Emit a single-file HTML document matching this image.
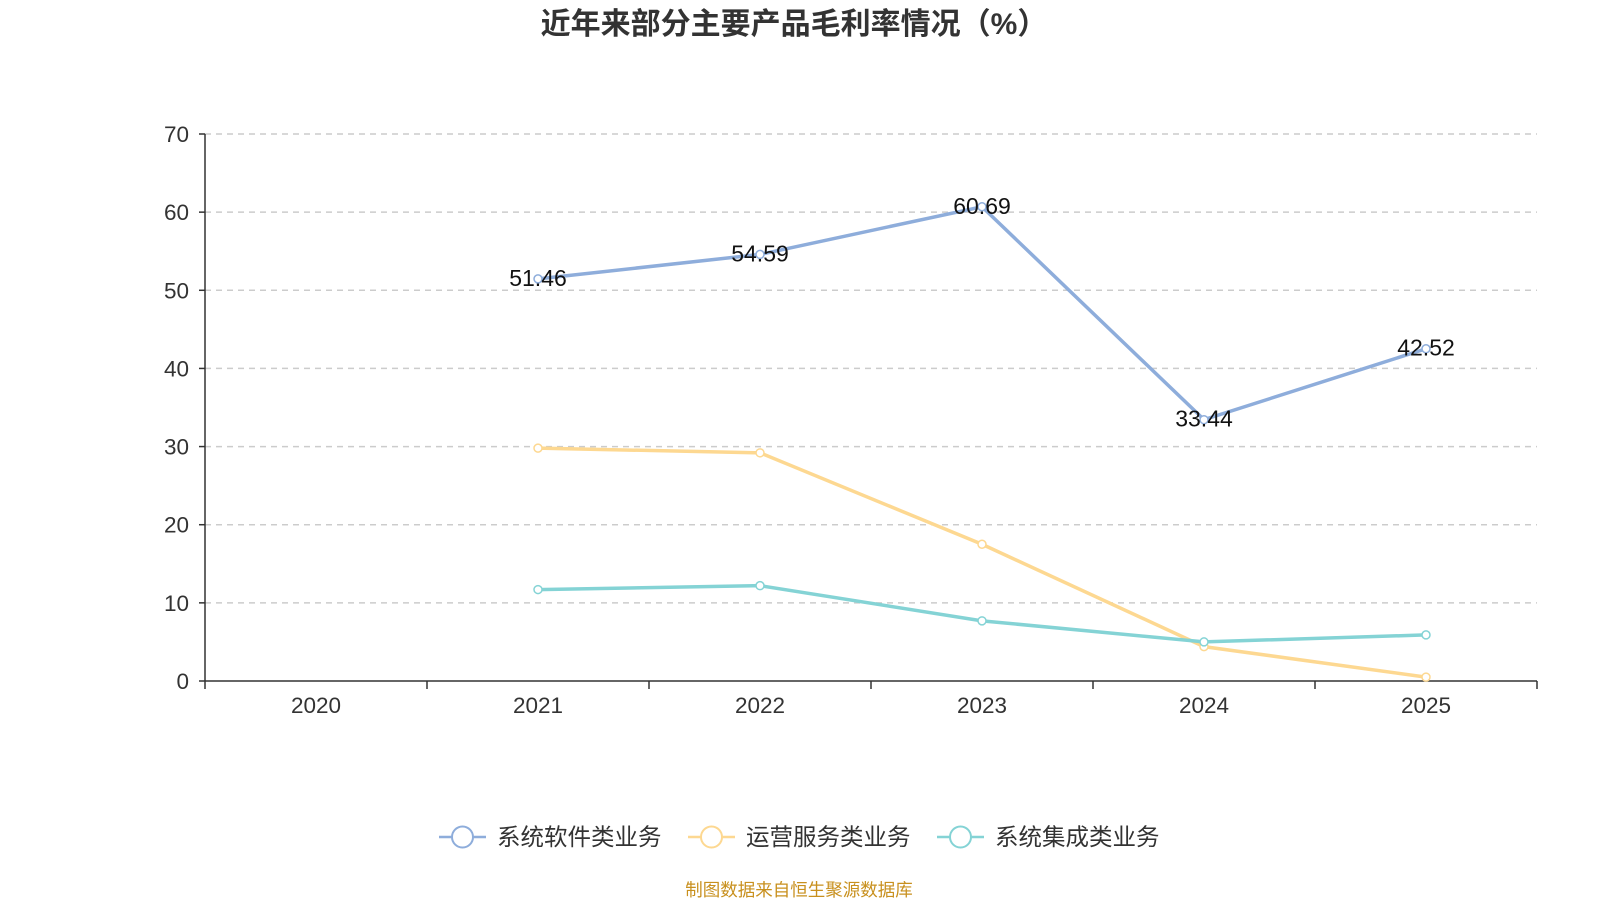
<!DOCTYPE html>
<html><head><meta charset="utf-8"><style>
body{margin:0;background:#fff;width:1600px;height:900px;overflow:hidden;font-family:"Liberation Sans","Noto Sans CJK SC",sans-serif}
</style></head><body>
<svg id="chart" width="1600" height="900" xmlns="http://www.w3.org/2000/svg">
<text x="794" y="34" text-anchor="middle" font-size="30" font-weight="bold" fill="#333">近年来部分主要产品毛利率情况（%）</text>
<g id="grid"></g><g id="axes"></g><g id="series"></g><g id="legend"></g>
<text x="799" y="896" text-anchor="middle" font-size="17.5" fill="#c8901e">制图数据来自恒生聚源数据库</text>
</svg>
<script>
const categories=["2020","2021","2022","2023","2024","2025"];
const seriesNames=["系统软件类业务","运营服务类业务","系统集成类业务"];
const software=[null,51.46,54.59,60.69,33.44,42.52];
const operation=[null,29.8,29.2,17.5,4.4,0.5];
const integration=[null,11.7,12.2,7.7,5.0,5.9];
const yTicks=[0,10,20,30,40,50,60,70];
const colors=["#8eaddb","#fdd891","#84d3d5"];
const NS="http://www.w3.org/2000/svg";
const L=205,R=1537,T=134,B=681,ymax=70;
const bw=(R-L)/categories.length;
const x=i=>L+bw*(i+0.5);
const y=v=>B-(v/ymax)*(B-T);
function mk(tag,attrs,parent,text){const e=document.createElementNS(NS,tag);for(const k in attrs)e.setAttribute(k,attrs[k]);if(text!=null)e.textContent=text;parent.appendChild(e);return e;}
const grid=document.getElementById('grid'),axes=document.getElementById('axes'),ser=document.getElementById('series'),leg=document.getElementById('legend');
yTicks.forEach(t=>{
 if(t>0){const g=mk('line',{x1:L,x2:R,y1:y(t),y2:y(t),stroke:'#ccc','stroke-dasharray':'6,5','stroke-width':1.5},grid);
 
 }
 const tl=mk('text',{x:189,y:y(t)+8,'text-anchor':'end','font-size':22.5,fill:'#333'},axes,String(t));
 
 
 mk('line',{x1:L-6,x2:L,y1:y(t),y2:y(t),stroke:'#333','stroke-width':1.5},axes);
});
const ya=mk('line',{x1:L,x2:L,y1:T,y2:B,stroke:'#333','stroke-width':1.5},axes);


const xa=mk('line',{x1:L,x2:R,y1:B,y2:B,stroke:'#333','stroke-width':1.5},axes);


for(let i=0;i<=categories.length;i++)mk('line',{x1:L+bw*i,x2:L+bw*i,y1:B,y2:B+8,stroke:'#333','stroke-width':1.5},axes);
categories.forEach((c,i)=>{const t=mk('text',{x:x(i),y:713,'text-anchor':'middle','font-size':22.5,fill:'#333'},axes,c);
 
 });
const all=[software,operation,integration];
all.forEach((d,s)=>{
 let pts=[];d.forEach((v,i)=>{if(v!=null)pts.push([x(i),y(v)]);});
 const p=mk('polyline',{points:pts.map(p=>p.join(',')).join(' '),fill:'none',stroke:colors[s],'stroke-width':3.5},ser);
 
 
 d.forEach((v,i)=>{if(v==null)return;
  const c=mk('circle',{cx:x(i),cy:y(v),r:4,fill:'#fff',stroke:colors[s],'stroke-width':1.5},ser);
  
  
  if(s===0){const lb=mk('text',{x:x(i),y:y(v)+7,'text-anchor':'middle','font-size':23,fill:'#111'},ser,v.toFixed(2));
   
   }
 });
});
const lx=[439,688,937];
seriesNames.forEach((n,s)=>{
 const g=mk('g',{},leg);
 
 
 mk('line',{x1:lx[s],x2:lx[s]+47,y1:837,y2:837,stroke:colors[s],'stroke-width':2.5},g);
 mk('circle',{cx:lx[s]+23.5,cy:837,r:10.5,fill:'#fff',stroke:colors[s],'stroke-width':2},g);
 mk('text',{x:lx[s]+58,y:845,'font-size':23.5,fill:'#333'},g,n);
});
</script>
</body></html>
